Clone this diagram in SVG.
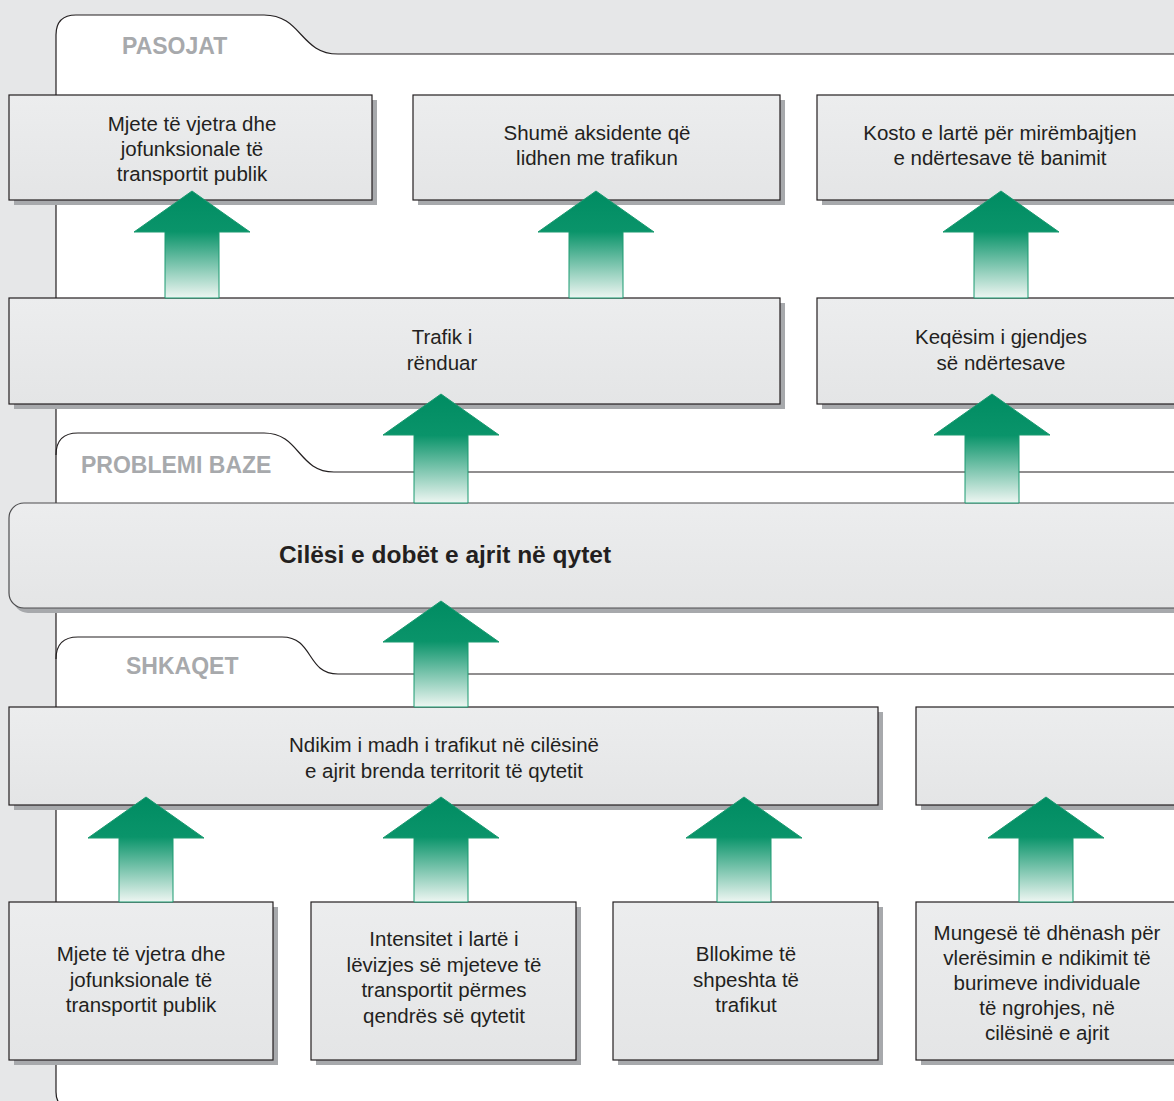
<svg xmlns="http://www.w3.org/2000/svg" width="1174" height="1101" viewBox="0 0 1174 1101">
<defs>
<linearGradient id="boxg" x1="0" y1="0" x2="0" y2="1">
<stop offset="0" stop-color="#ecedee"/>
<stop offset="1" stop-color="#e4e5e6"/>
</linearGradient>
<linearGradient id="arrg" x1="0" y1="0" x2="0" y2="1">
<stop offset="0" stop-color="#008c62"/>
<stop offset="0.38" stop-color="#0a946a"/>
<stop offset="1" stop-color="#eef6f2"/>
</linearGradient>
<style>
.panel{fill:#ffffff;stroke:#231f20;stroke-width:1.2}
.tab{fill:none;stroke:#231f20;stroke-width:1.2}
.lbl{font-family:"Liberation Sans",Arial,sans-serif;font-weight:bold;font-size:23px;fill:#a7a9ac}
.box{fill:url(#boxg);stroke:#231f20;stroke-width:1.2}
.shadow{fill:#a7a9ac}
.t{font-family:"Liberation Sans",Arial,sans-serif;font-size:20.5px;fill:#231f20;text-anchor:middle}
.tb{font-family:"Liberation Sans",Arial,sans-serif;font-size:24.5px;font-weight:bold;fill:#231f20;text-anchor:middle}
.arrow{fill:url(#arrg);stroke:#1a9a70;stroke-width:1}
</style>
</defs>
<rect x="0" y="0" width="1174" height="1101" fill="#e6e7e8"/>

<g id="panels">
<path class="panel" d="M1190,1108 L72,1108 Q56,1108 56,1092 L56,35 Q56,15 76,15 L264,15 C302,15 300,54 338,54 L1190,54 Z"/>
<path class="tab" d="M56,455 Q56,433 78,433 L264,433 C300,433 298,472 334,472 L1190,472"/>
<path class="tab" d="M56,659 Q56,637 78,637 L282,637 C314,637 306,674 338,674 L1190,674"/>
<text class="lbl" x="122" y="54">PASOJAT</text>
<text class="lbl" x="81" y="473">PROBLEMI BAZE</text>
<text class="lbl" x="126" y="674">SHKAQET</text>
</g>

<g id="pasoja1">
<rect class="shadow" x="14" y="100" width="363" height="105"/>
<rect class="box" x="9" y="95" width="363" height="105"/>
<text class="t" x="192" y="131">Mjete të vjetra dhe</text>
<text class="t" x="192" y="156">jofunksionale të</text>
<text class="t" x="192" y="181">transportit publik</text>
</g>
<g id="pasoja2">
<rect class="shadow" x="418" y="100" width="367" height="105"/>
<rect class="box" x="413" y="95" width="367" height="105"/>
<text class="t" x="597" y="140">Shumë aksidente që</text>
<text class="t" x="597" y="165">lidhen me trafikun</text>
</g>
<g id="pasoja3">
<rect class="shadow" x="822" y="100" width="370" height="105"/>
<rect class="box" x="817" y="95" width="370" height="105"/>
<text class="t" x="1000" y="140">Kosto e lartë për mirëmbajtjen</text>
<text class="t" x="1000" y="165">e ndërtesave të banimit</text>
</g>
<g id="pasoja4">
<rect class="shadow" x="14" y="303" width="771" height="106"/>
<rect class="box" x="9" y="298" width="771" height="106"/>
<text class="t" x="442" y="344">Trafik i</text>
<text class="t" x="442" y="370">rënduar</text>
</g>
<g id="pasoja5">
<rect class="shadow" x="822" y="303" width="370" height="106"/>
<rect class="box" x="817" y="298" width="370" height="106"/>
<text class="t" x="1001" y="344">Keqësim i gjendjes</text>
<text class="t" x="1001" y="370">së ndërtesave</text>
</g>

<g id="problemi">
<rect class="shadow" x="13" y="508" width="1190" height="105" rx="15"/>
<rect x="9" y="503" width="1190" height="105" rx="15" fill="url(#boxg)" stroke="#4d4d4f" stroke-width="1.2"/>
<text class="tb" x="445" y="563">Cilësi e dobët e ajrit në qytet</text>
</g>

<g id="shkak1">
<rect class="shadow" x="14" y="712" width="869" height="98"/>
<rect class="box" x="9" y="707" width="869" height="98"/>
<text class="t" x="444" y="752">Ndikim i madh i trafikut në cilësinë</text>
<text class="t" x="444" y="778">e ajrit brenda territorit të qytetit</text>
</g>
<g id="shkak2">
<rect class="shadow" x="921" y="712" width="270" height="98"/>
<rect class="box" x="916" y="707" width="270" height="98"/>
</g>
<g id="shkak3">
<rect class="shadow" x="14" y="907" width="264" height="158"/>
<rect class="box" x="9" y="902" width="264" height="158"/>
<text class="t" x="141" y="961">Mjete të vjetra dhe</text>
<text class="t" x="141" y="987">jofunksionale të</text>
<text class="t" x="141" y="1012">transportit publik</text>
</g>
<g id="shkak4">
<rect class="shadow" x="316" y="907" width="265" height="158"/>
<rect class="box" x="311" y="902" width="265" height="158"/>
<text class="t" x="444" y="946">Intensitet i lartë i</text>
<text class="t" x="444" y="972">lëvizjes së mjeteve të</text>
<text class="t" x="444" y="997">transportit përmes</text>
<text class="t" x="444" y="1023">qendrës së qytetit</text>
</g>
<g id="shkak5">
<rect class="shadow" x="618" y="907" width="265" height="158"/>
<rect class="box" x="613" y="902" width="265" height="158"/>
<text class="t" x="746" y="961">Bllokime të</text>
<text class="t" x="746" y="987">shpeshta të</text>
<text class="t" x="746" y="1012">trafikut</text>
</g>
<g id="shkak6">
<rect class="shadow" x="921" y="907" width="270" height="158"/>
<rect class="box" x="916" y="902" width="270" height="158"/>
<text class="t" x="1047" y="940">Mungesë të dhënash për</text>
<text class="t" x="1047" y="965">vlerësimin e ndikimit të</text>
<text class="t" x="1047" y="990">burimeve individuale</text>
<text class="t" x="1047" y="1015">të ngrohjes, në</text>
<text class="t" x="1047" y="1040">cilësinë e ajrit</text>
</g>

<g id="connectors">
<polygon class="arrow" points="192,191 250,232 219,232 219,298 165,298 165,232 134,232"/>
<polygon class="arrow" points="596,191 654,232 623,232 623,298 569,298 569,232 538,232"/>
<polygon class="arrow" points="1001,191 1059,232 1028,232 1028,298 974,298 974,232 943,232"/>
<polygon class="arrow" points="441,394 499,435 468,435 468,503 414,503 414,435 383,435"/>
<polygon class="arrow" points="992,394 1050,435 1019,435 1019,503 965,503 965,435 934,435"/>
<polygon class="arrow" points="441,601 499,642 468,642 468,707 414,707 414,642 383,642"/>
<polygon class="arrow" points="146,797 204,838 173,838 173,902 119,902 119,838 88,838"/>
<polygon class="arrow" points="441,797 499,838 468,838 468,902 414,902 414,838 383,838"/>
<polygon class="arrow" points="744,797 802,838 771,838 771,902 717,902 717,838 686,838"/>
<polygon class="arrow" points="1046,797 1104,838 1073,838 1073,902 1019,902 1019,838 988,838"/>
</g>
</svg>
